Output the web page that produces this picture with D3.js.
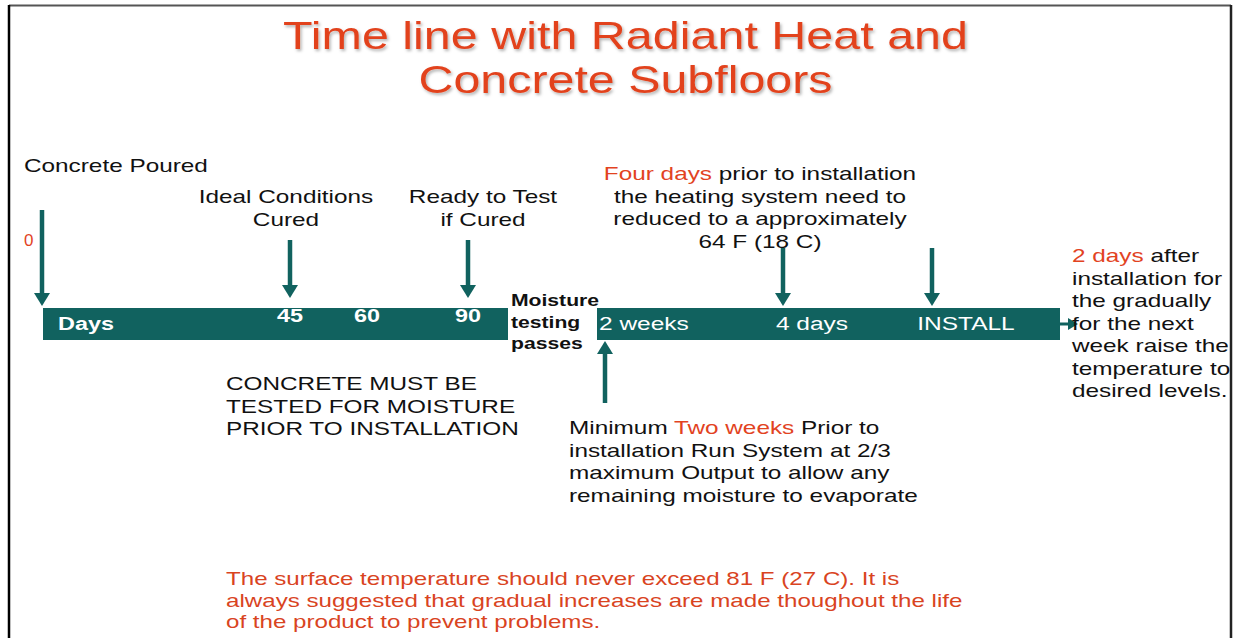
<!DOCTYPE html>
<html>
<head>
<meta charset="utf-8">
<script src="https://cdn.jsdelivr.net/npm/d3@7"></script>
<style>
  body { margin: 0; background: #fff; }
  text { font-family: "Liberation Sans", Arial, sans-serif; }
</style>
</head>
<body>
<div id="vis"></div>
<script>
// timeline stops and the text shown on the bars
const stops = ["start", "45", "60", "90", "end1", "start2", "2 weeks", "4 days", "INSTALL", "end2"];
const dayLabels = ["Days", "45", "60", "90"];
const weekLabels = ["2 weeks", "4 days", "INSTALL"];
const downArrows = ["start", "45", "90", "4 days", "INSTALL"];
const upArrows = ["2 weeks"];

const titleLines = ["Time line with Radiant Heat and", "Concrete Subfloors"];
const pouredNote = ["Concrete Poured"];
const idealNote = ["Ideal Conditions", "Cured"];
const readyNote = ["Ready to Test", "if Cured"];
const fourDaysNote = [["Four days", " prior to installation"], ["", "the heating system need to"], ["", "reduced to a approximately"], ["", "64 F (18 C)"]];
const moistureNote = ["Moisture", "testing", "passes"];
const concreteNote = ["CONCRETE MUST BE", "TESTED FOR MOISTURE", "PRIOR TO INSTALLATION"];
const twoWeeksNote = [["Minimum ", "Two weeks", " Prior to"], ["installation Run System at 2/3"], ["maximum Output to allow any"], ["remaining moisture to evaporate"]];
const afterNote = [["2 days", " after"], ["", "installation for"], ["", "the gradually"], ["", "for the next"], ["", "week raise the"], ["", "temperature to"], ["", "desired levels."]];
const footNote = ["The surface temperature should never exceed 81 F (27 C).  It is",
  "always suggested that gradual increases are made thoughout the life",
  "of the product to prevent problems."];

const W = 1237, H = 638;
const teal = "#11625f", red = "#e2431f", ink = "#111";

const svg = d3.select("#vis").append("svg").attr("width", W).attr("height", H);

const defs = svg.append("defs");
const f = defs.append("filter").attr("id", "shadow").attr("x", "-5%").attr("y", "-20%").attr("width", "110%").attr("height", "150%");
f.append("feDropShadow").attr("dx", 1.5).attr("dy", 2).attr("stdDeviation", 1.5).attr("flood-color", "#000").attr("flood-opacity", 0.3);

// frame
svg.append("line").attr("x1", 9).attr("x2", 1231).attr("y1", 5.5).attr("y2", 5.5).attr("stroke", "#555").attr("stroke-width", 2);
svg.append("line").attr("x1", 9).attr("x2", 9).attr("y1", 5).attr("y2", H).attr("stroke", "#000").attr("stroke-width", 2.5);
svg.append("line").attr("x1", 1231).attr("x2", 1231).attr("y1", 5).attr("y2", H).attr("stroke", "#222").attr("stroke-width", 2.5);

// scales
const x = d3.scaleOrdinal().domain(stops)
  .range([43, 290, 367, 468, 508, 597, 643, 812, 932, 1060]);
const y = d3.scaleOrdinal().domain(["arrowTop0", "arrowTopA", "arrowTopB", "barTop", "barBottom", "upBottom"])
  .range([210, 240, 248, 308, 340, 403]);

// title
svg.append("g").attr("filter", "url(#shadow)")
  .selectAll("text").data(titleLines).join("text")
  .attr("x", W / 2 + 7).attr("y", (d, i) => 49 + i * 44)
  .attr("text-anchor", "middle")
  .attr("font-family", "'Liberation Sans Narrow', 'Liberation Sans', Arial")
  .attr("font-size", 39).attr("fill", red)
  .attr("textLength", (d, i) => i === 0 ? 685 : 414).attr("lengthAdjust", "spacingAndGlyphs")
  .text(d => d);

// bars
const bars = [["start", "end1"], ["start2", "end2"]];
svg.selectAll("rect.bar").data(bars).join("rect").attr("class", "bar")
  .attr("x", d => x(d[0])).attr("width", d => x(d[1]) - x(d[0]))
  .attr("y", y("barTop")).attr("height", y("barBottom") - y("barTop"))
  .attr("fill", teal);

// bar labels
svg.selectAll("text.day").data(dayLabels).join("text").attr("class", "day stretch")
  .attr("data-k", 1.3)
  .attr("x", (d, i) => i === 0 ? 58 : x(d))
  .attr("y", (d, i) => i === 0 ? 330 : 322)
  .attr("text-anchor", (d, i) => i === 0 ? "start" : "middle")
  .attr("font-size", 18).attr("font-weight", "bold").attr("fill", "#fff")
  .text(d => d);
svg.selectAll("text.week").data(weekLabels).join("text").attr("class", "week stretch")
  .attr("data-k", 1.36)
  .attr("x", (d, i) => i === 0 ? 599 : x(d) + (d === "INSTALL" ? 34 : 0))
  .attr("y", 330)
  .attr("text-anchor", (d, i) => i === 0 ? "start" : "middle")
  .attr("font-size", 18).attr("fill", "#fff")
  .text(d => d);

// arrows
function arrow(x0, y0, x1, y1, w, head, hw) {
  const ang = Math.atan2(y1 - y0, x1 - x0);
  const bx = x1 - head * Math.cos(ang), by = y1 - head * Math.sin(ang);
  svg.append("line").attr("x1", x0).attr("y1", y0).attr("x2", bx).attr("y2", by)
    .attr("stroke", teal).attr("stroke-width", w);
  const px = -Math.sin(ang) * hw, py = Math.cos(ang) * hw;
  svg.append("path")
    .attr("d", `M${x1},${y1}L${bx + px},${by + py}L${bx - px},${by - py}Z`)
    .attr("fill", teal);
}
downArrows.forEach(k => {
  const top = k === "start" ? y("arrowTop0") : (k === "45" || k === "90") ? y("arrowTopA") : y("arrowTopB");
  const tip = (k === "45" || k === "90") ? y("barTop") - 10 : y("barTop") - 2;
  const xx = k === "start" ? 42 : k === "4 days" ? 783 : x(k);
  arrow(xx, top, xx, tip, 4.5, 13, 8);
});
upArrows.forEach(k => arrow(605, y("upBottom"), 605, y("barBottom") + 1, 4.5, 13, 8));
arrow(x("end2"), 324, 1078, 324, 3, 10, 6);

// helper for text blocks with coloured runs
function block(lines, x0, y0, dy, anchor, size, weight, k) {
  const t = svg.append("g");
  lines.forEach((ln, i) => {
    const runs = typeof ln === "string" ? [ln] : ln;
    const el = t.append("text").attr("class", "stretch").attr("data-k", k || 1.28)
      .attr("x", x0).attr("y", y0 + i * dy)
      .attr("text-anchor", anchor).attr("font-size", size).attr("font-weight", weight || "normal").attr("fill", ink);
    runs.forEach((r, j) => {
      if (!r) return;
      const red1 = (runs.length > 1 && ((lines === twoWeeksNote && j === 1) || (lines !== twoWeeksNote && j === 0)));
      el.append("tspan").attr("fill", red1 ? red : ink).text(r);
    });
  });
}

block(pouredNote, 24, 172, 22, "start", 19);
svg.append("text").attr("x", 24).attr("y", 246).attr("font-size", 17).attr("fill", red).text("0");
block(idealNote, 286, 203, 22.5, "middle", 19);
block(readyNote, 483, 203, 22.5, "middle", 19);
block(fourDaysNote, 760, 180, 22.5, "middle", 19);
block(moistureNote, 511, 306, 21.5, "start", 16, "bold", 1.32);
block(concreteNote, 226, 390, 22.5, "start", 19);
block(twoWeeksNote, 569, 434, 22.5, "start", 19);
block(afterNote, 1072, 262, 22.5, "start", 19);

svg.append("g").selectAll("text").data(footNote).join("text").attr("class", "stretch")
  .attr("data-k", 1.27)
  .attr("x", 226).attr("y", (d, i) => 585 + i * 21.5)
  .attr("font-size", 19).attr("fill", "#d9441f")
  .text(d => d);

// the source slide is stretched horizontally; widen each line to match
svg.selectAll("text.stretch").each(function () {
  const L = this.getComputedTextLength();
  d3.select(this).attr("textLength", L * (+this.getAttribute("data-k"))).attr("lengthAdjust", "spacingAndGlyphs");
});
</script>
</body>
</html>
